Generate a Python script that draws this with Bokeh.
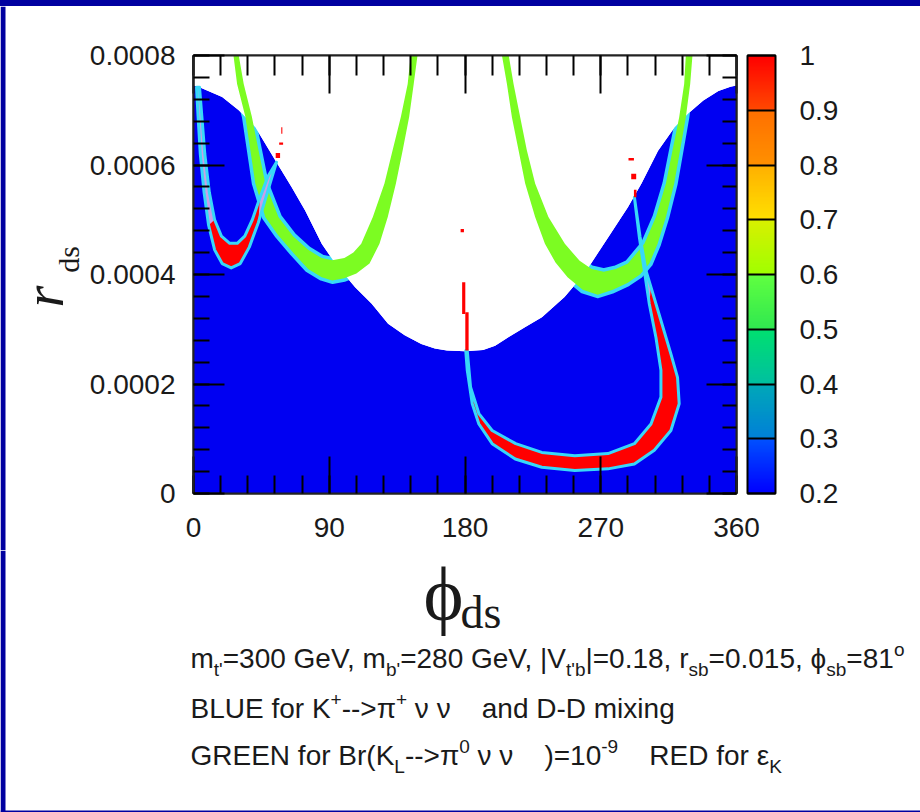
import glob
from math import pi

from bokeh.embed import file_html
from bokeh.layouts import column, row
from bokeh.models import (ColorBar, FixedTicker, Label, LinearAxis, LinearColorMapper,
                          NumeralTickFormatter, Range1d, Spacer)
from bokeh.plotting import figure
from bokeh.resources import INLINE

# ---------------------------------------------------------------- data
# axis ticks
x_ticks = [0, 90, 180, 270, 360]
x_minor = [0, 18, 36, 54, 72, 90, 108, 126, 144, 162, 180, 198, 216, 234, 252, 270,
           288, 306, 324, 342, 360]
y_ticks = [0, 0.0002, 0.0004, 0.0006, 0.0008]
y_minor = [0, 0.00004, 0.00008, 0.00012, 0.00016, 0.0002, 0.00024, 0.00028, 0.00032,
           0.00036, 0.0004, 0.00044, 0.00048, 0.00052, 0.00056, 0.0006, 0.00064,
           0.00068, 0.00072, 0.00076, 0.0008]
cbar_ticks = [0.2, 0.3, 0.4, 0.5, 0.6, 0.7, 0.8, 0.9, 1]
cbar_labels = ["0.2", "0.3", "0.4", "0.5", "0.6", "0.7", "0.8", "0.9", "1"]

# upper edge of the region allowed by K+ -> pi+ nu nu and D-D mixing (phi_ds in deg, r_ds)
edge_phi = [0, 4, 19, 30, 41, 55, 65, 74, 85, 94, 107, 118, 129, 140, 151, 160, 168, 180,
            192, 200, 209, 220, 231, 246, 259, 275, 288, 297, 308, 319, 328, 338, 348, 356, 360]
edge_r = [7.45e-4, 7.42e-4, 7.24e-4, 7.0e-4, 6.69e-4, 6.05e-4, 5.6e-4, 5.17e-4, 4.56e-4,
          4.2e-4, 3.77e-4, 3.47e-4, 3.1e-4, 2.89e-4, 2.73e-4, 2.65e-4, 2.61e-4, 2.6e-4,
          2.62e-4, 2.7e-4, 2.86e-4, 3.04e-4, 3.22e-4, 3.59e-4, 4.01e-4, 4.68e-4, 5.23e-4,
          5.66e-4, 6.26e-4, 6.69e-4, 6.94e-4, 7.18e-4, 7.35e-4, 7.43e-4, 7.45e-4]

# Br(K_L -> pi0 nu nu) = 1e-9 band, left branch (outer and inner edge)
gl_out_phi = [26.5, 28.9, 34.4, 37.7, 41.0, 47.6, 56.0, 66.0, 76.0, 85.0, 92.0, 100.0,
              108.0, 116.7, 123.3, 128.8, 134.2, 138.7, 143.0, 146.0, 148.5]
gl_out_r = [8.0e-4, 7.48e-4, 6.88e-4, 6.27e-4, 5.66e-4, 5.05e-4, 4.72e-4, 4.4e-4, 4.1e-4,
            3.95e-4, 3.89e-4, 3.93e-4, 4.02e-4, 4.2e-4, 4.56e-4, 5.05e-4, 5.66e-4, 6.27e-4,
            6.88e-4, 7.48e-4, 8.0e-4]
gl_in_phi = [30.0, 33.3, 38.7, 43.1, 47.6, 56.3, 66.0, 76.0, 85.0, 92.0, 100.0, 106.0,
             111.2, 118.9, 126.6, 132.0, 137.5, 142.0, 144.0]
gl_in_r = [8.0e-4, 7.48e-4, 6.88e-4, 6.27e-4, 5.66e-4, 5.05e-4, 4.7e-4, 4.45e-4, 4.3e-4,
           4.26e-4, 4.3e-4, 4.4e-4, 4.56e-4, 5.05e-4, 5.66e-4, 6.27e-4, 6.88e-4, 7.48e-4,
           8.0e-4]

# Br(K_L -> pi0 nu nu) = 1e-9 band, right branch
gr_out_phi = [204.5, 207.8, 211.1, 215.5, 219.9, 226.5, 233.0, 240.0, 248.0, 258.0, 268.0,
              278.0, 288.0, 296.0, 302.2, 307.7, 313.2, 318.7, 322.6, 326.4, 329.3, 330.8]
gr_out_r = [8.0e-4, 7.48e-4, 6.87e-4, 6.27e-4, 5.66e-4, 5.05e-4, 4.56e-4, 4.22e-4, 3.95e-4,
            3.72e-4, 3.63e-4, 3.72e-4, 3.85e-4, 4.0e-4, 4.2e-4, 4.56e-4, 5.05e-4, 5.66e-4,
            6.27e-4, 6.87e-4, 7.48e-4, 8.0e-4]
gr_in_phi = [209.0, 212.2, 216.6, 221.0, 226.5, 235.3, 246.2, 256.0, 264.0, 272.0, 280.0,
             288.0, 298.9, 306.6, 313.2, 317.6, 322.0, 325.3, 326.4]
gr_in_r = [8.0e-4, 7.48e-4, 6.87e-4, 6.27e-4, 5.66e-4, 5.05e-4, 4.56e-4, 4.25e-4, 4.1e-4,
           4.05e-4, 4.1e-4, 4.2e-4, 4.56e-4, 5.05e-4, 5.66e-4, 6.27e-4, 6.87e-4, 7.48e-4,
           8.0e-4]

# epsilon_K contour, left loop
el_out_phi = [2.0, 3.0, 4.5, 7.0, 10.0, 14.0, 19.0, 25.0, 31.0, 37.0, 43.0, 49.0, 55.0]
el_out_r = [7.42e-4, 6.9e-4, 6.2e-4, 5.5e-4, 4.9e-4, 4.45e-4, 4.2e-4, 4.12e-4, 4.2e-4,
            4.5e-4, 4.95e-4, 5.5e-4, 6.05e-4]
el_in_phi = [4.0, 5.5, 7.5, 10.5, 14.0, 18.5, 24.0, 29.0, 34.0, 39.0, 44.0, 49.5, 55.0]
el_in_r = [7.42e-4, 6.9e-4, 6.2e-4, 5.5e-4, 5.0e-4, 4.7e-4, 4.57e-4, 4.57e-4, 4.7e-4,
           5.0e-4, 5.4e-4, 5.8e-4, 6.05e-4]

# epsilon_K contour, right loop
er_out_phi = [180.5, 181.5, 184.8, 189.2, 198.0, 213.3, 230.9, 252.8, 274.8, 292.3, 305.5,
              316.5, 322.0, 320.9, 316.5, 309.9, 303.3, 300.0, 296.0, 292.3]
er_out_r = [2.61e-4, 2.25e-4, 1.64e-4, 1.27e-4, 0.91e-4, 0.63e-4, 0.48e-4, 0.42e-4,
            0.45e-4, 0.54e-4, 0.79e-4, 1.15e-4, 1.64e-4, 2.12e-4, 2.55e-4, 3.16e-4,
            3.77e-4, 4.07e-4, 4.7e-4, 5.41e-4]
er_in_phi = [181.5, 183.7, 189.2, 198.0, 213.6, 230.9, 252.8, 274.8, 292.3, 303.3, 309.9,
             309.9, 306.6, 302.2, 298.9, 295.5, 292.3]
er_in_r = [2.61e-4, 1.94e-4, 1.46e-4, 1.15e-4, 0.91e-4, 0.75e-4, 0.69e-4, 0.73e-4, 0.91e-4,
           1.27e-4, 1.76e-4, 2.25e-4, 2.85e-4, 3.46e-4, 4.07e-4, 4.7e-4, 5.41e-4]

# isolated epsilon_K cells
spot_left = [178.1, 180.2, 58.2, 56.8, 54.5, 288.4, 290.2, 292.0, 177.1]
spot_right = [180.2, 182.4, 58.9, 59.4, 57.4, 292.0, 293.5, 293.7, 179.3]
spot_bottom = [3.28e-4, 2.61e-4, 6.57e-4, 6.37e-4, 6.13e-4, 6.08e-4, 5.74e-4, 5.41e-4, 4.77e-4]
spot_top = [3.86e-4, 3.31e-4, 6.69e-4, 6.41e-4, 6.22e-4, 6.13e-4, 5.84e-4, 5.55e-4, 4.83e-4]

# ---------------------------------------------------------------- styling / layout
NAVY = "#0000A0"
BLUE = "#0000F2"
GREEN = "#7CFC22"
RED = "#FF0000"
CYAN = "#38D8F8"
LILAC = "#C8A0E8"
INK = "#1A1A1A"
NBSP = "\u00a0"

PAGE_W, PAGE_H = 920, 812
EDGE_L, EDGE_T, EDGE_B = 5, 6, 2               # navy frame round the page
FX0, FX1, FY0, FY1 = 190, 736, 55, 493          # plot frame on the page
SIDE_W = 86                                     # strip holding the r_ds title
MAIN_BOTTOM = 550                               # page row where the caption strip starts
MAIN_H = MAIN_BOTTOM - EDGE_T
CAP_H = PAGE_H - MAIN_BOTTOM
MAIN_W = PAGE_W - SIDE_W
BASELINE_LIFT = 0.32                            # em offset of a Label anchor above its baseline


def _font_file(name):
    for root in ("/usr/share/fonts", "/usr/local/share/fonts"):
        hits = glob.glob(f"{root}/**/{name}", recursive=True)
        if hits:
            return hits[0]
    return None


SANS = "Liberation Sans"
SANS_FILE = _font_file("LiberationSans-Regular.ttf")
SERIF = "Liberation Serif"

try:
    from PIL import ImageFont
except Exception:
    ImageFont = None


def text_width(s, size):
    if ImageFont is not None and SANS_FILE:
        return ImageFont.truetype(SANS_FILE, size).getlength(s)
    return 0.5 * size * len(s)


def blank_canvas(w, h, fill="white"):
    """A figure with no axes whose data units are its own pixels (origin bottom-left)."""
    f = figure(width=w, height=h, x_range=Range1d(0, w), y_range=Range1d(0, h),
               output_backend="svg", toolbar_location=None, min_border=0,
               frame_align=False, title=None)
    f.axis.visible = False
    f.grid.visible = False
    f.outline_line_color = None
    f.background_fill_color = fill
    f.border_fill_color = fill
    return f


# ---------------------------------------------------------------- main plot
p = figure(width=MAIN_W, height=MAIN_H, x_range=Range1d(0, 360), y_range=Range1d(0, 0.0008),
           output_backend="svg", toolbar_location=None, frame_align=False, title=None,
           min_border_left=FX0 - SIDE_W, min_border_right=MAIN_W - (FX1 - SIDE_W),
           min_border_top=FY0 - EDGE_T, min_border_bottom=MAIN_H - (FY1 - EDGE_T))
p.grid.visible = False
p.background_fill_color = "white"
p.border_fill_color = "white"
p.outline_line_color = "#222222"
p.outline_line_width = 2

TICK_FONT = "28px"


def style_axis(ax, major, minor, ticks=None):
    ax.major_tick_in = major
    ax.major_tick_out = 0
    ax.minor_tick_in = minor
    ax.minor_tick_out = 0
    ax.major_tick_line_color = "black"
    ax.minor_tick_line_color = "black"
    ax.major_tick_line_width = 2
    ax.minor_tick_line_width = 2
    ax.axis_line_color = "#222222"
    ax.axis_line_width = 2
    if ticks is None:
        ax.major_label_text_font = SANS
        ax.major_label_text_font_size = TICK_FONT
        ax.major_label_text_color = INK
    else:
        # tick marks only on the opposite side
        ax.major_label_overrides = {t: "" for t in ticks}
        ax.major_label_text_color = None
        ax.major_label_standoff = 0


xt = FixedTicker(ticks=x_ticks, minor_ticks=x_minor)
yt = FixedTicker(ticks=y_ticks, minor_ticks=y_minor)

p.xaxis.ticker = xt
style_axis(p.xaxis[0], 37, 18)
p.xaxis.major_label_standoff = 24

p.yaxis.ticker = yt
p.yaxis.formatter = NumeralTickFormatter(format="0.[0000]")
style_axis(p.yaxis[0], 31, 16)
p.yaxis.major_label_standoff = 18

top_axis = LinearAxis(ticker=xt)
style_axis(top_axis, 38, 20, x_ticks)
p.add_layout(top_axis, "above")

right_axis = LinearAxis(ticker=yt)
style_axis(right_axis, 30, 14, y_ticks)
p.add_layout(right_axis, "right")

# an unpainted axis that only keeps a gap between the frame and the colour scale
gap_axis = LinearAxis(ticker=yt, major_tick_in=0, major_tick_out=11, minor_tick_in=0,
                      minor_tick_out=0, major_tick_line_color=None,
                      minor_tick_line_color=None, axis_line_color=None,
                      major_label_text_color=None,
                      major_label_overrides={t: "" for t in y_ticks}, major_label_standoff=0)
p.add_layout(gap_axis, "right")


def band(out_x, out_y, in_x, in_y):
    return list(out_x) + list(in_x)[::-1], list(out_y) + list(in_y)[::-1]


# allowed region (blue) and the excluded region above it (white)
p.patch([0] + edge_phi + [360], [0] + edge_r + [0], fill_color=BLUE, line_color=None)

gl_x, gl_y = band(gl_out_phi, gl_out_r, gl_in_phi, gl_in_r)
gr_x, gr_y = band(gr_out_phi, gr_out_r, gr_in_phi, gr_in_r)
for bx, by in ((gl_x, gl_y), (gr_x, gr_y)):
    p.patch(bx, by, fill_color=None, line_color=CYAN, line_width=7, line_join="round")

p.patch([0] + edge_phi + [360], [0.0008] + edge_r + [0.0008], fill_color="white",
        line_color=None)

for bx, by in ((gl_x, gl_y), (gr_x, gr_y)):
    p.patch(bx, by, fill_color=GREEN, line_color=None)

# epsilon_K loops: thin lilac ribbon, red where the ribbon is wide, cyan rim
el_x, el_y = band(el_out_phi, el_out_r, el_in_phi, el_in_r)
er_x, er_y = band(er_out_phi, er_out_r, er_in_phi, er_in_r)
elr_x, elr_y = band(el_out_phi[4:11], el_out_r[4:11], el_in_phi[4:11], el_in_r[4:11])
err_x, err_y = band(er_out_phi[2:17], er_out_r[2:17], er_in_phi[1:14], er_in_r[1:14])
for bx, by, rx, ry in ((el_x, el_y, elr_x, elr_y), (er_x, er_y, err_x, err_y)):
    p.patch(bx, by, fill_color=LILAC, line_color=None)
    p.patch(rx, ry, fill_color=RED, line_color=None)
    p.patch(bx, by, fill_color=None, line_color=CYAN, line_width=3, line_join="round")

p.quad(left=spot_left, right=spot_right, bottom=spot_bottom, top=spot_top,
       fill_color=RED, line_color=None)

# colour scale: eight 0.1 steps, each with its own gradient
seg_colors = [("#0000FF", "#0050FF"), ("#0080D8", "#00A8B8"), ("#00C0A0", "#00E070"),
              ("#30E850", "#60FF40"), ("#A0FF00", "#D8F000"), ("#FFE000", "#FFB000"),
              ("#FF9000", "#FF7000"), ("#FF4800", "#FF0000")]


def _mix(c0, c1, t):
    a = [int(c0[i:i + 2], 16) for i in (1, 3, 5)]
    b = [int(c1[i:i + 2], 16) for i in (1, 3, 5)]
    return "#" + "".join(f"{round(u + (v - u) * t):02X}" for u, v in zip(a, b))


palette = [_mix(c0, c1, k / 39) for c0, c1 in seg_colors for k in range(40)]
mapper = LinearColorMapper(palette=palette, low=0.2, high=1.0)
cbar = ColorBar(color_mapper=mapper, ticker=FixedTicker(ticks=cbar_ticks),
                major_label_overrides=dict(zip(cbar_ticks, cbar_labels)),
                width=28, height=FY1 - FY0, padding=0, margin=0,
                label_standoff=24, major_tick_in=28, major_tick_out=0,
                major_tick_line_color="black", major_tick_line_width=2,
                minor_tick_line_color=None, bar_line_color="black", bar_line_width=2,
                major_label_text_font=SANS, major_label_text_font_size=TICK_FONT,
                major_label_text_color=INK, background_fill_color=None,
                border_line_color=None)
p.add_layout(cbar, "right")

# ---------------------------------------------------------------- navy frame and r_ds strip
top_strip = Spacer(width=PAGE_W, height=EDGE_T, styles={"background-color": NAVY})

side = blank_canvas(SIDE_W, MAIN_H)
side.quad(left=[0], right=[EDGE_L], bottom=[0], top=[MAIN_H], fill_color=NAVY,
          line_color=None)


def side_y(Y):
    return MAIN_H - (Y - EDGE_T)


side.add_layout(Label(x=43, y=side_y(296), text="r", angle=pi / 2,
                      text_font=SERIF, text_font_style="italic", text_font_size="56px",
                      text_color=INK, text_baseline="middle", text_align="center"))
side.add_layout(Label(x=68, y=side_y(259), text="ds", angle=pi / 2,
                      text_font=SERIF, text_font_size="30px", text_color=INK,
                      text_baseline="middle", text_align="center"))

# ---------------------------------------------------------------- phi_ds title and caption
cap = blank_canvas(PAGE_W, CAP_H)
cap.quad(left=[0, 0], right=[EDGE_L, PAGE_W], bottom=[0, 0], top=[CAP_H, EDGE_B],
         fill_color=NAVY, line_color=None)


def cap_y(baseline, size):
    """Label y (in caption-strip pixels) that puts the text baseline on page row `baseline`."""
    return CAP_H - (baseline - BASELINE_LIFT * size - MAIN_BOTTOM)


cap.add_layout(Label(x=423, y=cap_y(618, 76), text="ϕ", text_font=SERIF,
                     text_font_size="76px", text_color=INK, text_baseline="alphabetic",
                     text_align="left"))
cap.add_layout(Label(x=460, y=cap_y(627, 46), text="ds", text_font=SERIF,
                     text_font_size="46px", text_color=INK, text_baseline="alphabetic",
                     text_align="left"))

# caption lines with sub/superscripts: 0 normal, -1 subscript, 1 superscript
caption = [
    (667, [("m", 0), ("t'", -1), ("=300 GeV, m", 0), ("b'", -1), ("=280 GeV, |V", 0),
           ("t'b", -1), ("|=0.18, r", 0), ("sb", -1), ("=0.015, ϕ", 0), ("sb", -1),
           ("=81", 0), ("o", 1)]),
    (717, [("BLUE for K", 0), ("+", 1), ("-->π", 0), ("+", 1), (" ν ν    and D-D mixing", 0)]),
    (764, [("GREEN for Br(K", 0), ("L", -1), ("-->π", 0), ("0", 1), (" ν ν    )=10", 0),
           ("-9", 1), ("    RED for ε", 0), ("K", -1)]),
]
caption = [(b, [(t.replace(" ", NBSP), k) for t, k in pcs]) for b, pcs in caption]


def run_width(pieces, big, small):
    return sum(text_width(t, big if k == 0 else small) for t, k in pieces)


CAP_X0, CAP_X1 = 190, 905
CAP = 30.0
while run_width(caption[0][1], CAP, round(CAP * 0.68)) > CAP_X1 - CAP_X0 and CAP > 18:
    CAP -= 0.5
SMALL = round(CAP * 0.68)

for base, pieces in caption:
    X = CAP_X0
    for txt, kind in pieces:
        size = CAP if kind == 0 else SMALL
        Y = base + (8 if kind < 0 else (-12 if kind > 0 else 0))
        cap.add_layout(Label(x=X, y=cap_y(Y, size), text=txt, text_font=SANS,
                             text_font_size=f"{size}px", text_color=INK,
                             text_baseline="alphabetic", text_align="left"))
        X += text_width(txt, size)

page = column(top_strip, row(side, p), cap)

with open("out.html", "w") as fh:
    fh.write(file_html(page, INLINE))
